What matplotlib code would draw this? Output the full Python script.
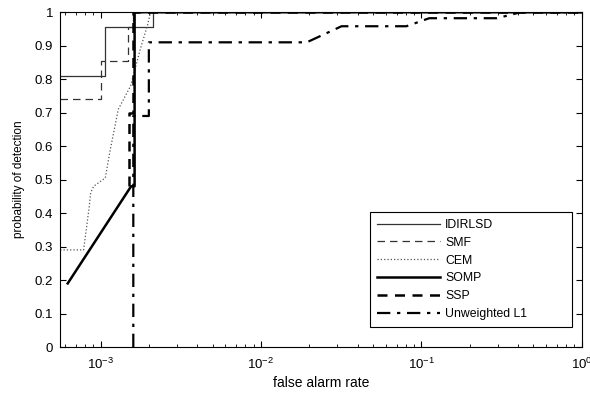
import matplotlib
matplotlib.use('Agg')
import matplotlib.pyplot as plt
from matplotlib.ticker import LogLocator, NullFormatter

plt.rcParams['font.family'] = ['Liberation Sans', 'DejaVu Sans']
plt.rcParams['mathtext.fontset'] = 'custom'
plt.rcParams['mathtext.rm'] = 'Liberation Sans'

# ROC curves
idirlsd_x = [5.6e-4, 1.07e-3, 1.07e-3, 2.13e-3, 2.13e-3, 1.0]
idirlsd_y = [0.81, 0.81, 0.955, 0.955, 1.0, 1.0]

smf_x = [5.6e-4, 1.0e-3, 1.0e-3, 1.49e-3, 1.49e-3, 1.6e-3, 1.6e-3, 1.0]
smf_y = [0.74, 0.74, 0.855, 0.855, 0.955, 0.955, 1.0, 1.0]

cem_x = [5.6e-4, 7.84e-4, 8.5e-4, 8.67e-4, 9.05e-4, 1.07e-3, 1.15e-3,
         1.29e-3, 1.54e-3, 1.77e-3, 1.96e-3, 2.05e-3, 1.0]
cem_y = [0.29, 0.29, 0.42, 0.46, 0.48, 0.505, 0.59, 0.71, 0.78, 0.89,
         0.96, 1.0, 1.0]

somp_x = [6.24e-4, 1.55e-3, 1.63e-3, 1.63e-3, 1.0]
somp_y = [0.19, 0.48, 0.48, 1.0, 1.0]

ssp_x = [1.5e-3, 1.5e-3, 1.6e-3, 1.6e-3, 1.0]
ssp_y = [0.48, 0.70, 0.70, 1.0, 1.0]

l1_x = [1.6e-3, 1.6e-3, 2.0e-3, 2.0e-3, 1.93e-2, 3.18e-2, 8.07e-2,
        0.112, 0.296, 0.418, 1.0]
l1_y = [0.0, 0.69, 0.69, 0.91, 0.91, 0.958, 0.958, 0.982, 0.982, 1.0, 1.0]

names = ['IDIRLSD', 'SMF', 'CEM', 'SOMP', 'SSP', 'Unweighted L1']

fig = plt.figure(figsize=(5.9, 3.93), dpi=100)
ax = fig.add_axes([0.102, 0.117, 0.884, 0.852])

ax.plot(idirlsd_x, idirlsd_y, '-', color='#333333', lw=0.9, label=names[0])
ax.plot(smf_x, smf_y, '--', color='#333333', lw=0.9, dashes=(6, 4),
        label=names[1])
ax.plot(cem_x, cem_y, ':', color='#555555', lw=0.9, label=names[2])
ax.plot(somp_x, somp_y, '-', color='black', lw=1.8, label=names[3])
ax.plot(ssp_x, ssp_y, '--', color='black', lw=1.8, dashes=(4, 3),
        label=names[4])
ax.plot(l1_x, l1_y, '-.', color='black', lw=1.6, dashes=(6, 3, 1.5, 3),
        label=names[5])

ax.set_xscale('log')
ax.set_xlim(5.6e-4, 1.0)
ax.set_ylim(0, 1)
ax.set_yticks([i / 10 for i in range(11)])
ax.set_yticklabels(['0', '0.1', '0.2', '0.3', '0.4', '0.5', '0.6', '0.7',
                    '0.8', '0.9', '1'])
ax.xaxis.set_major_locator(LogLocator(base=10, numticks=10))
ax.xaxis.set_minor_locator(LogLocator(base=10, subs=range(2, 10), numticks=20))
ax.xaxis.set_minor_formatter(NullFormatter())
ax.tick_params(which='both', direction='in', top=True, right=True,
               labelsize=9.5)
ax.tick_params(which='major', length=4)
ax.tick_params(which='minor', length=2.5)
ax.tick_params(axis='x', which='major', pad=7)
ax.tick_params(axis='y', which='major', pad=5)
ax.set_xlabel('false alarm rate', fontsize=10, labelpad=3)
ax.set_ylabel('probability of detection', fontsize=8.5, labelpad=7)

# MATLAB-style wide legend box, lower right
leg = ax.legend(loc='lower left', bbox_to_anchor=(0.594, 0.06, 0.387, 0.33),
                mode='expand', borderaxespad=0,
                fontsize=8.8, handlelength=5.2, labelspacing=0.48,
                fancybox=False, framealpha=1, borderpad=0.55,
                handletextpad=0.4)
leg.get_frame().set_edgecolor('black')
leg.get_frame().set_linewidth(0.8)

fig.savefig('out.png', dpi=100)
plt.close()
